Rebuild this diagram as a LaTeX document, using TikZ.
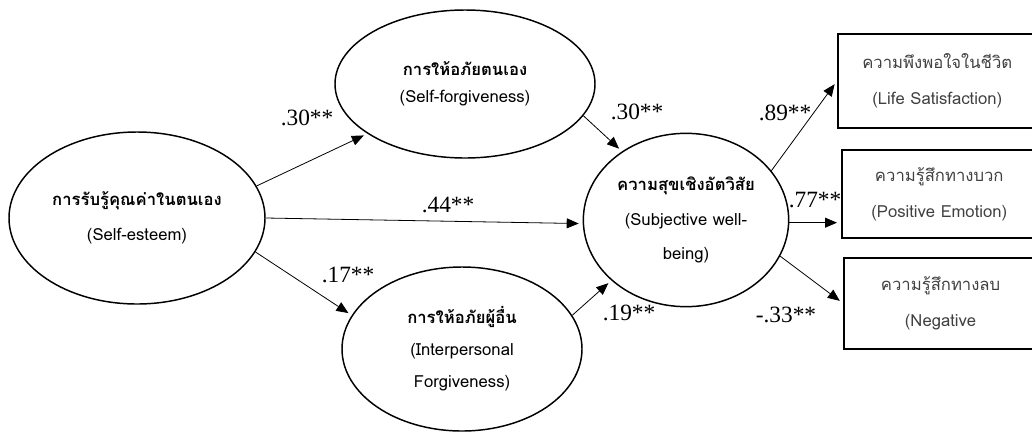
\documentclass[tikz,border=0pt]{standalone}
\usepackage{fontspec}
\setmainfont{Liberation Serif}
\newfontfamily\thaifont[Script=Thai]{Loma}
\usetikzlibrary{arrows.meta, shapes.geometric}

\begin{document}
\begin{tikzpicture}[
    x=0.75pt, y=-0.75pt,
    latent/.style={ellipse, draw, line width=1.1pt, inner sep=0pt, align=center, font=\thaifont\fontsize{12.5}{26}\selectfont},
    indicator/.style={rectangle, draw, line width=1.4pt, inner sep=0pt, anchor=north west, align=center, text=black!75, font=\thaifont\fontsize{12.5}{27}\selectfont},
    path/.style={line width=0.6pt, -{Triangle[length=9pt, width=7.5pt]}, shorten >=3pt},
    coef/.style={font=\fontsize{17.5}{19}\selectfont}
]
\clip (0,0) rectangle (1032,433);

% Variables latentes
\node[latent, minimum width=192pt, minimum height=129pt] (esteem) at (137,218) {\textbf{การรับรู้คุณค่าในตนเอง}\\(Self-esteem)};
\node[latent, minimum width=195pt, minimum height=111pt, font=\thaifont\fontsize{12.5}{20}\selectfont] (selfforg) at (465,84) {\textbf{การให้อภัยตนเอง}\\(Self-forgiveness)};
\node[latent, minimum width=180pt, minimum height=123pt, font=\thaifont\fontsize{12.5}{24}\selectfont] (interforg) at (462,349) {\textbf{การให้อภัยผู้อื่น}\\(Interpersonal\\Forgiveness)};
\node[latent, minimum width=154pt, minimum height=130pt] (swb) at (686,220) {\textbf{ความสุขเชิงอัตวิสัย}\\(Subjective well-\\being)};

% Indicateurs
\node[indicator, minimum width=149pt, minimum height=70.5pt] (lifesat) at (837,33) {ความพึงพอใจในชีวิต\\(Life Satisfaction)};
\node[indicator, minimum width=146pt, minimum height=66pt] (posemo) at (841,149) {ความรู้สึกทางบวก\\(Positive Emotion)};
\node[indicator, minimum width=145pt, minimum height=68pt] (negemo) at (843,257) {ความรู้สึกทางลบ\\(Negative};

% Chemins
\draw[path] (esteem.15) -- (selfforg.207);
\draw[path] (esteem.0) -- (swb.182);
\draw[path] (esteem.-16) -- (interforg.163);
\draw[path] (selfforg.-15) -- (swb.133);
\draw[path] (interforg.17) -- (swb.219);
\draw[path] (swb.30) -- (lifesat.west);
\draw[path] ([yshift=-2pt]swb.east) -- ([yshift=-2pt]swb.east -| posemo.west);
\draw[path] (swb.-21) -- (negemo.west);

% Coefficients
\node[coef] (c1) at (307,118) {.30**};
\node[coef] (c2) at (448,205) {.44**};
\node[coef] (c3) at (348,275) {.17**};
\node[coef] (c4) at (637,112) {.30**};
\node[coef] (c5) at (629,313) {.19**};
\node[coef] (c6) at (785,113) {.89**};
\node[coef] (c7) at (815,200) {.77**};
\node[coef] (c8) at (786,315) {-.33**};

\end{tikzpicture}
\end{document}
